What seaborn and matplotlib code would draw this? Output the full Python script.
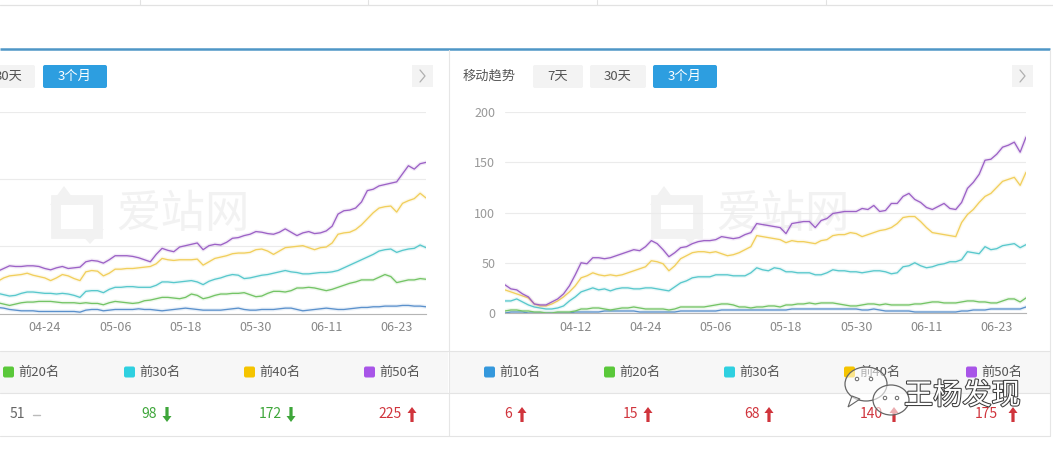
import numpy as np
import pandas as pd
import matplotlib
matplotlib.use("Agg")
import matplotlib.pyplot as plt
import matplotlib.patheffects as pe
from matplotlib.patches import Rectangle, FancyBboxPatch, Ellipse, Polygon
import seaborn as sns

# ---------------- data ----------------
series_names = ["前10名", "前20名", "前30名", "前40名", "前50名"]
dates = list(pd.date_range("2019-03-31", periods=90).strftime("%m-%d"))
tick_labels = ["04-12", "04-24", "05-06", "05-18", "05-30", "06-11", "06-23"]

# right panel (移动趋势, 3个月)
right_top10 = [0, 1, 1, 1, 0, 0, 0, 0, 0, 0,
               0, 0, 1, 1, 1, 1, 1, 2, 2, 2,
               2, 2, 2, 1, 1, 1, 1, 1, 1, 1,
               2, 2, 2, 2, 2, 2, 2, 3, 3, 3,
               3, 3, 3, 3, 3, 3, 3, 3, 3, 4,
               4, 4, 4, 4, 4, 4, 4, 4, 4, 4,
               4, 3, 3, 4, 3, 2, 2, 2, 2, 2,
               1, 1, 1, 1, 1, 1, 1, 1, 2, 2,
               3, 3, 3, 4, 4, 4, 4, 4, 4, 6]
right_top20 = [2, 3, 3, 2, 2, 1, 1, 0, 0, 1,
               1, 1, 2, 4, 4, 5, 5, 4, 3, 4,
               5, 5, 6, 5, 4, 4, 4, 4, 3, 4,
               6, 6, 6, 6, 6, 7, 8, 9, 9, 8,
               6, 6, 5, 6, 6, 7, 7, 6, 8, 8,
               9, 9, 10, 9, 10, 10, 10, 9, 8, 7,
               7, 8, 9, 9, 8, 9, 8, 8, 8, 8,
               9, 9, 10, 11, 11, 10, 10, 10, 11, 12,
               12, 11, 11, 10, 10, 12, 14, 14, 11, 15]
right_top30 = [12, 12, 14, 11, 8, 6, 5, 4, 4, 5,
               7, 12, 16, 21, 23, 25, 23, 24, 22, 24,
               25, 25, 24, 24, 25, 25, 24, 23, 22, 26,
               30, 32, 35, 36, 36, 36, 38, 38, 38, 37,
               37, 37, 40, 45, 43, 42, 45, 44, 41, 41,
               40, 40, 40, 38, 38, 40, 43, 42, 42, 41,
               41, 40, 41, 42, 42, 41, 39, 40, 46, 47,
               50, 47, 45, 46, 48, 49, 51, 51, 53, 61,
               60, 59, 66, 63, 64, 67, 68, 69, 65, 68]
right_top40 = [23, 21, 19, 17, 15, 9, 7, 7, 9, 12,
               16, 21, 27, 35, 37, 40, 38, 37, 38, 37,
               38, 40, 42, 44, 46, 52, 51, 49, 42, 47,
               54, 57, 60, 61, 61, 60, 61, 59, 57, 58,
               60, 63, 66, 77, 76, 75, 74, 73, 70, 72,
               71, 71, 70, 69, 72, 73, 77, 78, 78, 80,
               79, 76, 78, 80, 82, 83, 85, 89, 95, 96,
               96, 91, 85, 80, 79, 78, 77, 76, 90, 98,
               103, 110, 116, 119, 125, 131, 133, 135, 127, 140]
right_top50 = [28, 24, 23, 19, 16, 9, 8, 8, 11, 14,
               19, 27, 38, 50, 49, 55, 55, 54, 55, 57,
               59, 61, 63, 62, 66, 72, 69, 63, 56, 60,
               65, 66, 69, 71, 72, 72, 73, 76, 75, 74,
               75, 78, 80, 89, 88, 87, 86, 85, 79, 89,
               90, 91, 91, 85, 92, 94, 99, 100, 101, 101,
               101, 104, 103, 107, 101, 102, 109, 109, 116, 119,
               113, 110, 105, 103, 106, 109, 104, 103, 110, 124,
               130, 138, 152, 153, 158, 165, 167, 170, 160, 175]

# left panel (cut off at the left edge) - values from day index 15 on
left_start = 15
left_top10 = [9, 9, 8, 6, 5, 4, 4, 4, 3, 3,
              3, 3, 3, 3, 3, 2, 5, 6, 6, 4,
              5, 6, 6, 6, 6, 7, 6, 6, 5, 4,
              5, 6, 7, 8, 7, 6, 5, 5, 5, 5,
              6, 7, 8, 6, 5, 5, 6, 6, 6, 7,
              8, 8, 6, 4, 5, 6, 7, 8, 7, 6,
              6, 7, 8, 9, 9, 10, 10, 11, 11, 11,
              12, 12, 11, 11, 10]
left_top20 = [16, 16, 14, 12, 14, 16, 17, 17, 18, 18,
              18, 17, 16, 16, 16, 15, 16, 15, 15, 13,
              16, 18, 17, 16, 15, 16, 19, 20, 22, 24,
              24, 23, 22, 24, 29, 27, 22, 24, 27, 29,
              29, 30, 30, 31, 28, 25, 26, 30, 33, 33,
              32, 34, 38, 38, 39, 38, 36, 34, 36, 39,
              42, 45, 47, 50, 50, 50, 54, 58, 55, 46,
              48, 50, 50, 52, 51]
left_top30 = [31, 30, 28, 26, 27, 30, 32, 32, 31, 30,
              30, 29, 30, 29, 27, 24, 33, 34, 34, 31,
              36, 39, 39, 40, 40, 39, 39, 39, 42, 47,
              47, 46, 47, 48, 49, 47, 43, 48, 51, 53,
              56, 58, 57, 52, 53, 55, 57, 58, 60, 62,
              64, 62, 61, 59, 59, 60, 61, 61, 62, 64,
              68, 72, 76, 80, 84, 88, 93, 95, 96, 91,
              94, 96, 97, 102, 98]
left_top40 = [46, 48, 53, 56, 57, 58, 60, 57, 55, 53,
              49, 53, 58, 56, 52, 49, 62, 64, 63, 56,
              60, 66, 66, 67, 67, 68, 69, 70, 74, 82,
              80, 79, 80, 80, 80, 81, 72, 77, 82, 84,
              86, 89, 90, 90, 91, 95, 96, 93, 88, 93,
              98, 99, 100, 101, 98, 95, 98, 99, 105, 118,
              120, 121, 125, 132, 141, 150, 157, 159, 160, 151,
              164, 168, 171, 179, 172]
left_top50 = [64, 63, 67, 71, 70, 70, 71, 71, 70, 67,
              65, 68, 70, 67, 68, 69, 77, 79, 78, 75,
              80, 86, 86, 86, 85, 83, 80, 77, 88, 97,
              94, 92, 99, 101, 103, 105, 95, 101, 103, 102,
              106, 112, 113, 116, 118, 122, 121, 119, 118, 121,
              126, 121, 116, 120, 122, 119, 120, 123, 130, 148,
              153, 154, 157, 166, 183, 185, 190, 192, 194, 196,
              208, 220, 215, 223, 225]

left_values = ["51", "98", "172", "225"]
left_trend = ["flat", "down", "down", "up"]
right_values = ["6", "15", "68", "140", "175"]
right_trend = ["up", "up", "up", "up", "up"]
right_yticks = [0, 50, 100, 150, 200]
left_yticks = [0, 100, 200, 300]

# ---------------- style ----------------
sns.set_style("white")
plt.rcParams["font.family"] = ["Noto Sans CJK SC", "DejaVu Sans"]

line_colors = ["#5b91cc", "#74c466", "#58c8cc", "#f1cf5c", "#9c62c6"]
legend_colors = ["#3598dc", "#5ac83a", "#2fd0e0", "#f5c400", "#a855e8"]
palette = dict(zip(series_names, line_colors))

W, H = 1053, 449
fig = plt.figure(figsize=(W / 100, H / 100), dpi=100)
fig.patch.set_facecolor("white")

bg = fig.add_axes([0, 0, 1, 1], zorder=0)
bg.set_xlim(0, W)
bg.set_ylim(H, 0)
bg.axis("off")

ov = fig.add_axes([0, 0, 1, 1], zorder=5)
ov.set_xlim(0, W)
ov.set_ylim(H, 0)
ov.axis("off")
ov.patch.set_alpha(0)

# ---- page furniture ----
bg.plot([0, W], [4.5, 4.5], color="#e2e2e2", lw=0.9)
for xv in [140, 368, 597, 826]:
    bg.plot([xv, xv], [0, 4.5], color="#e2e2e2", lw=0.8)
bg.plot([0, 1050], [48.5, 48.5], color="#4f96c6", lw=1.8, solid_capstyle="butt")
for xv in [448.5, 1050]:
    bg.plot([xv, xv], [49.5, 436], color="#e6e6e6", lw=0.8)
for x0, w in [(0, 448), (449, 601)]:
    bg.add_patch(Rectangle((x0, 351), w, 42, facecolor="#f7f7f7", edgecolor="none"))
for yv in [351, 393, 436]:
    bg.plot([0, 1050], [yv, yv], color="#e4e4e4", lw=0.8)


def button(x0, x1, label, active=False, cx=None, ha="center"):
    fc = "#2d9ee0" if active else "#f3f3f3"
    bg.add_patch(FancyBboxPatch((x0, 65), x1 - x0, 23, boxstyle="round,pad=0,rounding_size=2",
                                facecolor=fc, edgecolor="none"))
    tx = (x0 + x1) / 2 if cx is None else cx
    bg.text(tx, 76.5, label, ha=ha, va="center", fontsize=9.5,
            color="white" if active else "#555555")


def chevron(x0):
    bg.add_patch(Rectangle((x0, 65), 21, 22, facecolor="#f3f3f3", edgecolor="none"))
    bg.plot([x0 + 8, x0 + 13, x0 + 8], [70, 76, 82], color="#b0b0b0", lw=0.9)


button(-25, 35, "30天", cx=23, ha="right")
button(43, 107, "3个月", active=True)
chevron(412)
bg.text(463, 76.5, "移动趋势", ha="left", va="center", fontsize=9.5, color="#555555")
button(533, 583, "7天")
button(590, 646, "30天")
button(653, 717, "3个月", active=True)
chevron(1012)


# watermark "爱站网"
def aizhan(xi, xt):
    wm = "#f2f2f2"
    bg.add_patch(Rectangle((xi + 6, 200), 42, 34, facecolor="none", edgecolor=wm, lw=7))
    bg.add_patch(Polygon([[xi, 205], [xi + 14, 186], [xi + 28, 205]], facecolor=wm, edgecolor="none"))
    bg.add_patch(Polygon([[xi + 26, 229], [xi + 40, 244], [xi + 54, 229]], facecolor=wm, edgecolor="none"))
    bg.text(xt, 214, "爱站网", ha="center", va="center", fontsize=32, color=wm)


aizhan(50, 183)
aizhan(650, 783)

# ---- charts ----
def draw_panel(rect, values_by_series, x_start, ylim, yticks, show_ylabels, visible_from=0):
    ax = fig.add_axes(rect, zorder=1)
    ax.patch.set_alpha(0)
    rows = []
    for name, vals in zip(series_names, values_by_series):
        for i, v in enumerate(vals):
            rows.append({"idx": x_start + i, "value": v, "series": name})
    df = pd.DataFrame(rows)
    sns.lineplot(data=df, x="idx", y="value", hue="series", hue_order=series_names,
                 palette=palette, linewidth=0.95, legend=False, ax=ax, estimator=None)
    for ln in ax.get_lines():
        c = ln.get_color()
        ln.set_path_effects([pe.Stroke(linewidth=2.8, foreground=c, alpha=0.13), pe.Normal()])
    ax.set_xlim(0, len(dates) - 1)
    ax.set_ylim(*ylim)
    shown = [t for t in tick_labels if dates.index(t) >= visible_from]
    ticks = [0] + [dates.index(t) for t in shown]
    ax.set_xticks(ticks)
    ax.set_xticklabels([""] + shown)
    ax.set_yticks(yticks)
    if show_ylabels:
        ax.set_yticklabels([str(v) for v in yticks])
    else:
        ax.set_yticklabels([])
    ax.tick_params(axis="x", length=3, width=0.8, color="#b5b5b5", pad=2.5,
                   labelsize=9, labelcolor="#888888")
    ax.tick_params(axis="y", length=0, pad=7, labelsize=9, labelcolor="#999999")
    ax.yaxis.grid(True, color="#ebebeb", lw=0.8)
    ax.set_axisbelow(True)
    for s in ["top", "right", "left"]:
        ax.spines[s].set_visible(False)
    ax.spines["bottom"].set_color("#b5b5b5")
    ax.spines["bottom"].set_linewidth(0.8)
    ax.set_xlabel("")
    ax.set_ylabel("")
    return ax


draw_panel([-96 / W, 1 - 313.5 / H, 522 / W, 201.5 / H],
           [left_top10, left_top20, left_top30, left_top40, left_top50],
           left_start, (0, 300), left_yticks, False, visible_from=20)
draw_panel([505 / W, 1 - 313 / H, 521 / W, 201 / H],
           [right_top10, right_top20, right_top30, right_top40, right_top50],
           0, (0, 200), right_yticks, True)

# ---- legends and values ----
def legend_item(x, name, color):
    bg.add_patch(FancyBboxPatch((x, 366.5), 11, 11, boxstyle="round,pad=0,rounding_size=2",
                                facecolor=color, edgecolor="none"))
    bg.text(x + 15, 372, name, ha="left", va="center", fontsize=9.5, color="#555555")


def arrow(xc, direction, color):
    if direction == "up":
        pts = [[xc - 4.5, 413], [xc, 407], [xc + 4.5, 413], [xc + 1.6, 413],
               [xc + 1.6, 422], [xc - 1.6, 422], [xc - 1.6, 413]]
    else:
        pts = [[xc - 4.5, 416], [xc, 422], [xc + 4.5, 416], [xc + 1.6, 416],
               [xc + 1.6, 407], [xc - 1.6, 407], [xc - 1.6, 416]]
    bg.add_patch(Polygon(pts, closed=True, facecolor=color, edgecolor="none"))


trend_color = {"up": "#d0343c", "down": "#3ea63a", "flat": "#666666"}

for x, name, col in zip([3, 124, 244, 364], series_names[1:], legend_colors[1:]):
    legend_item(x, name, col)
for x, name, col in zip([484, 604, 724, 844, 966], series_names, legend_colors):
    legend_item(x, name, col)

left_val_right = [25, 157, 282, 402]
left_arrow_x = [36, 167, 291, 412]
for xr, xa, v, t in zip(left_val_right, left_arrow_x, left_values, left_trend):
    bg.text(xr, 414.5, v, ha="right", va="center", fontsize=10, color=trend_color[t])
    if t == "flat":
        bg.plot([xa - 3.5, xa + 3.5], [414.5, 414.5], color="#bbbbbb", lw=1)
    else:
        arrow(xa, t, trend_color[t])

right_val_right = [512, 638, 760, 883, 998]
right_arrow_x = [522, 648, 769, 894, 1013]
for xr, xa, v, t in zip(right_val_right, right_arrow_x, right_values, right_trend):
    bg.text(xr, 414.5, v, ha="right", va="center", fontsize=10, color=trend_color[t])
    arrow(xa, t, trend_color[t])

# ---- "王杨发现" overlay watermark ----
ov.add_patch(Ellipse((866, 384), 42, 34, facecolor=(1, 1, 1, 0.55), edgecolor="#666666", lw=0.9))
ov.add_patch(Polygon([[852, 396], [848, 407], [860, 399]], facecolor=(1, 1, 1, 0.6),
                     edgecolor="#666666", lw=0.8))
ov.add_patch(Ellipse((891, 400), 36, 30, facecolor=(1, 1, 1, 0.6), edgecolor="#666666", lw=0.9))
for dx, dy in [(857, 379), (871, 379), (885, 398), (897, 398)]:
    ov.add_patch(Ellipse((dx, dy), 3.5, 3.5, facecolor="white", edgecolor="#666666", lw=0.7))
ov.text(904, 396, "王杨发现", ha="left", va="center", fontsize=21, color="white",
        path_effects=[pe.withStroke(linewidth=1.5, foreground="#3d3d3d")])

fig.savefig("out.png", dpi=100)
